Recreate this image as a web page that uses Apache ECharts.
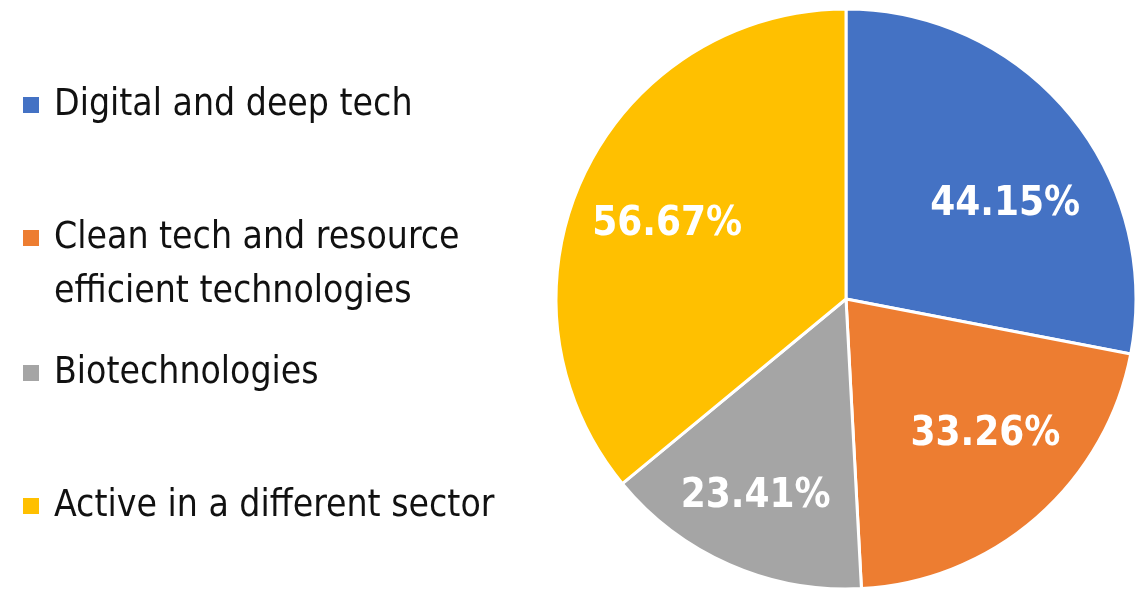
<!DOCTYPE html>
<html>
<head>
<meta charset="utf-8">
<script src="https://cdn.jsdelivr.net/npm/echarts@6/dist/echarts.min.js"></script>
<style>
  html, body { margin: 0; padding: 0; background: #fff; }
  #chart { width: 1142px; height: 590px; }
</style>
</head>
<body>
<div id="chart"></div>
<script>
// data
const sectors = [
  'Digital and deep tech',
  'Clean tech and resource\nefficient technologies',
  'Biotechnologies',
  'Active in a different sector'
];
const shares = [44.15, 33.26, 23.41, 56.67];
const colors = ['#4472C4', '#ED7D31', '#A5A5A5', '#FFC000'];

const font = '"DejaVu Sans Condensed", "DejaVu Sans", sans-serif';

// small nudges so the value labels sit like in the source (best-fit placement)
const labelNudge = [[5, 33], [8, -15], [-10, 14], [2, 11]];

const pieData = sectors.map((name, i) => ({ name: name, value: shares[i] }));
const labelData = sectors.map((name, i) => ({
  name: name,
  value: shares[i],
  label: { offset: labelNudge[i] }
}));

// one legend per entry so the uneven spacing can be kept
const lineH = 54;
const legendCentres = [105, 238, 373, 506];
const legends = sectors.map((name, i) => {
  const twoLine = name.indexOf('\n') >= 0;
  return {
    data: [name],
    left: 21,
    top: legendCentres[i] - (twoLine ? lineH * 1.5 : lineH / 2),
    orient: 'vertical',
    padding: 0,
    itemWidth: 18,
    itemHeight: 18,
    icon: 'rect',
    selectedMode: false,
    // an empty first line keeps the icon level with "Clean tech ..."
    formatter: twoLine ? (n => '\n' + n) : (n => n),
    textStyle: {
      fontFamily: font,
      fontSize: 37,
      color: '#111',
      lineHeight: lineH,
      padding: [0, 0, 0, 9]
    }
  };
});

const chart = echarts.init(document.getElementById('chart'));
chart.setOption({
  backgroundColor: '#fff',
  color: colors,
  animation: false,
  legend: legends,
  series: [
    {
      name: 'sectors',
      type: 'pie',
      center: [846, 299],
      radius: [0, 290],
      startAngle: 90,
      clockwise: true,
      data: pieData,
      itemStyle: { borderColor: '#fff', borderWidth: 3 },
      label: { show: false },
      labelLine: { show: false },
      emphasis: { disabled: true }
    },
    {
      // transparent ring only used to place the value labels further out
      name: 'labels',
      type: 'pie',
      center: [846, 299],
      radius: [104, 290],
      startAngle: 90,
      clockwise: true,
      silent: true,
      data: labelData,
      itemStyle: { color: 'rgba(0,0,0,0)', borderWidth: 0 },
      label: {
        show: true,
        position: 'inside',
        formatter: p => p.value.toFixed(2) + '%',
        color: '#fff',
        fontFamily: font,
        fontWeight: 'bold',
        fontSize: 40
      },
      labelLine: { show: false },
      emphasis: { disabled: true }
    }
  ]
});
</script>
</body>
</html>
